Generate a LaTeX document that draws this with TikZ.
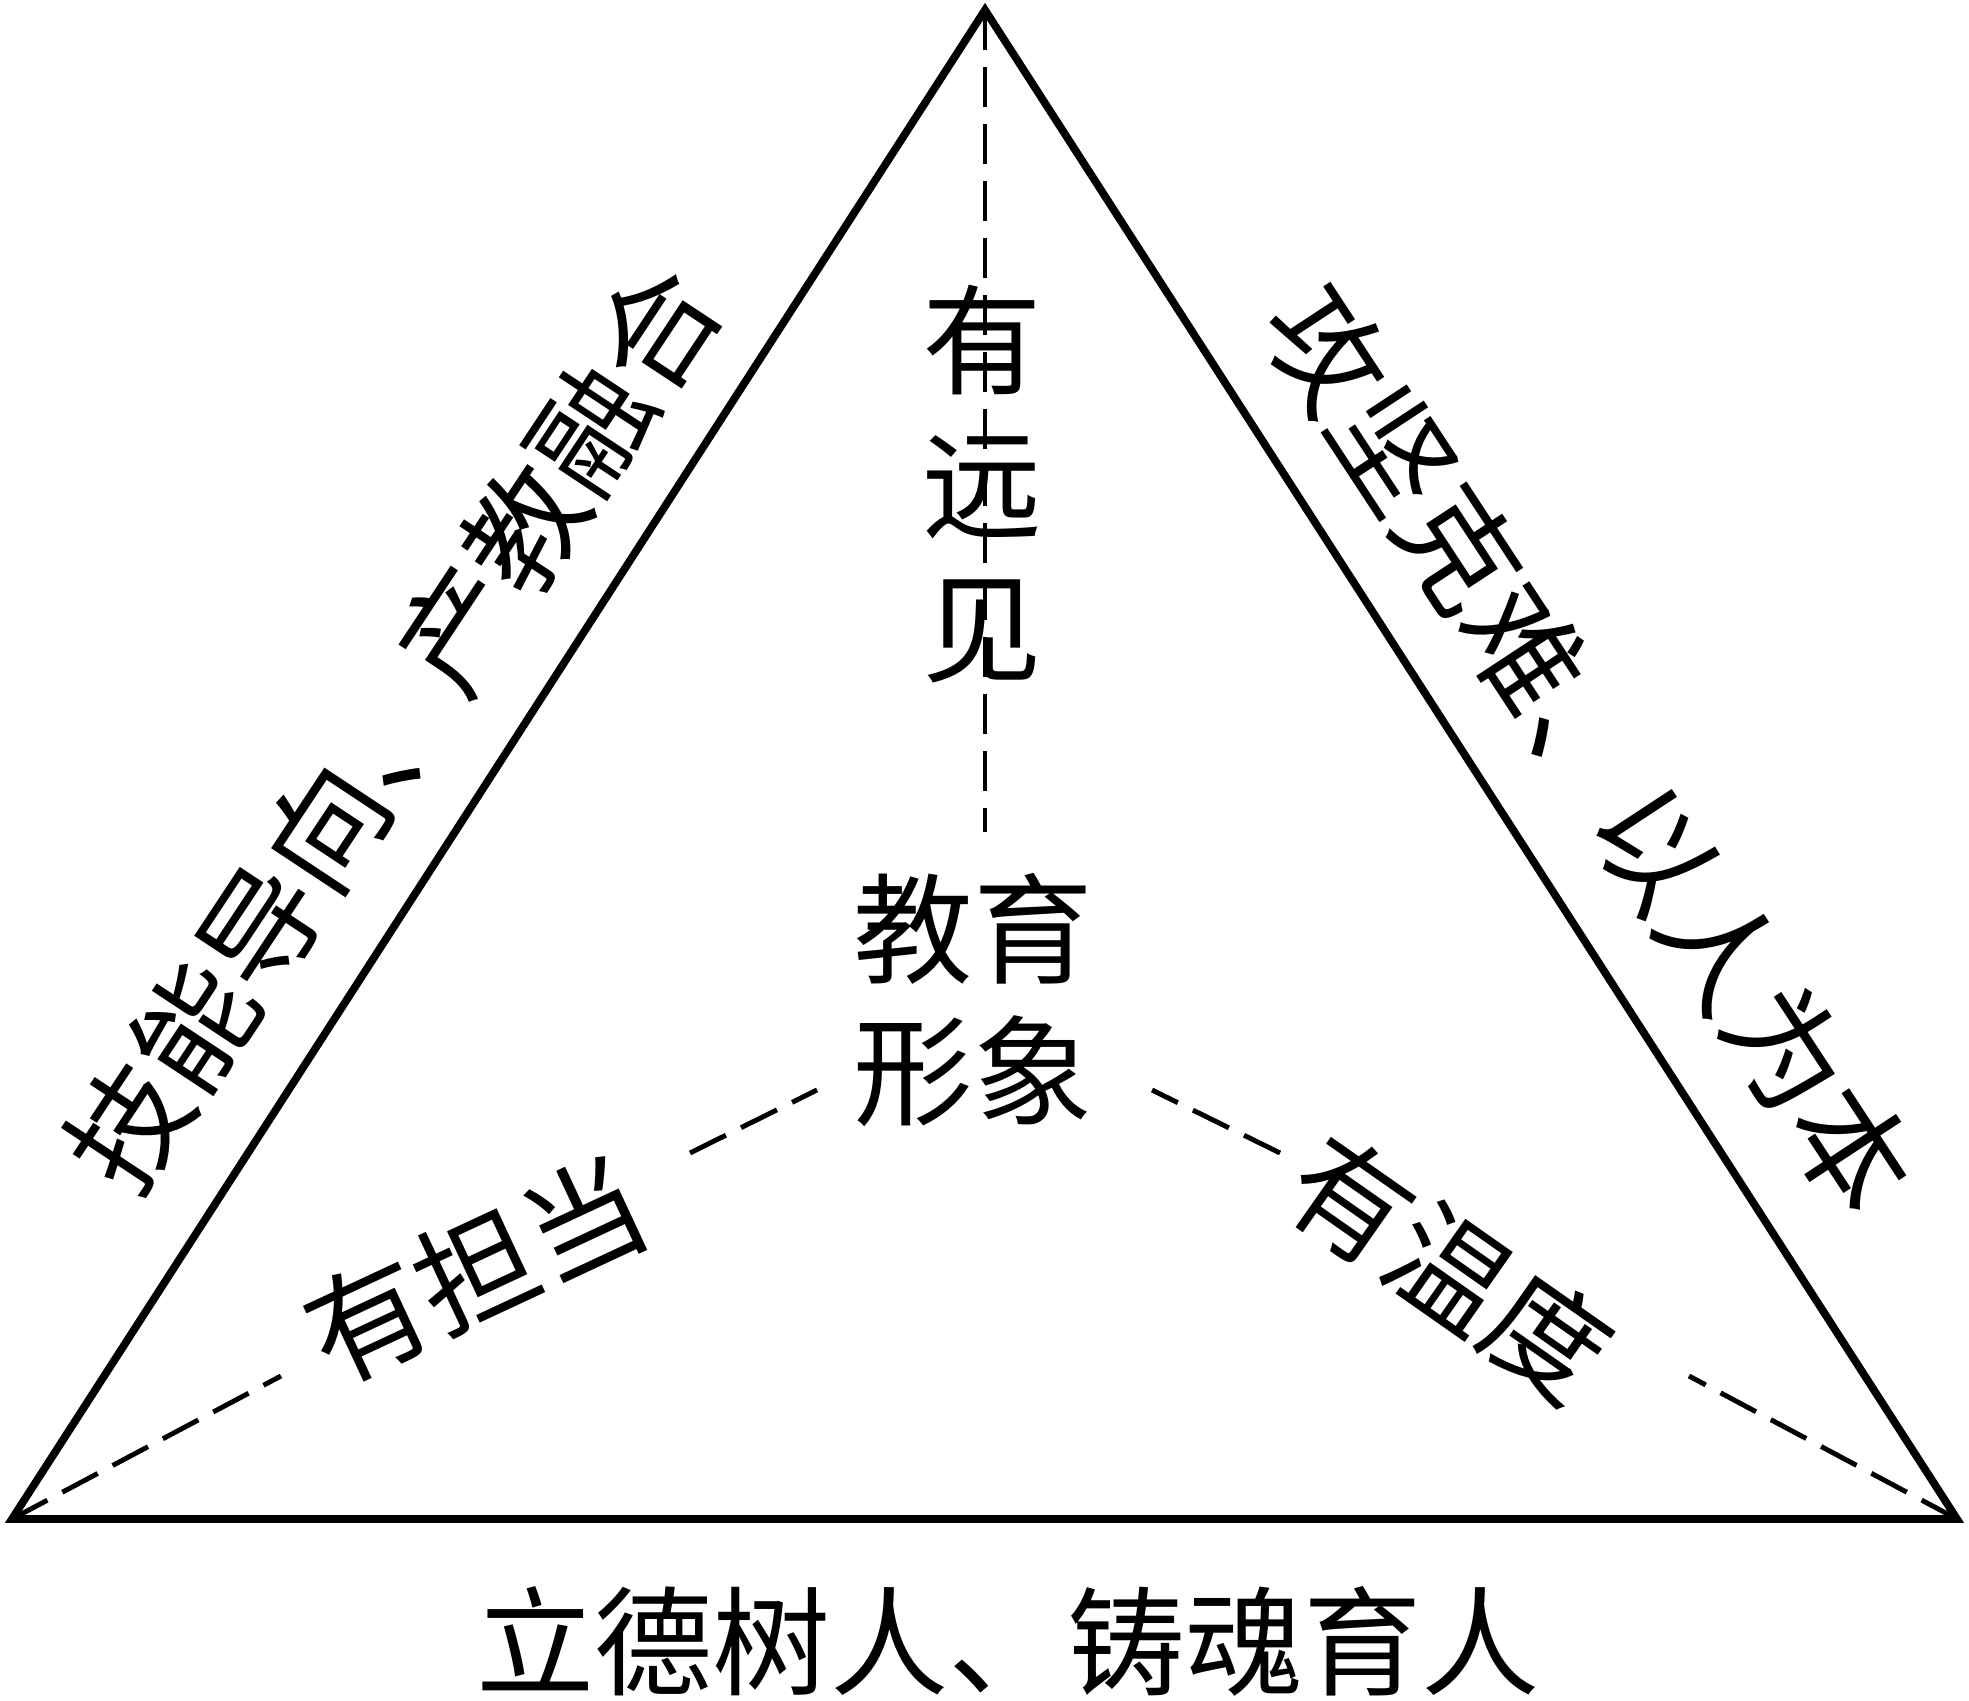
\documentclass[tikz,border=0pt]{standalone}
\usepackage{fontspec}
\newfontfamily\cjk{Noto Sans CJK SC}
\begin{document}
\begin{tikzpicture}[x=0.01cm,y=-0.01cm,
  edge/.style={line width=2.2pt,line join=miter},
  dashline/.style={line width=1.4pt,dash pattern=on 11.4pt off 4.8pt},
  lbl/.style={inner sep=0pt,font=\cjk\fontsize{34pt}{41pt}\selectfont,align=center},
  btm/.style={inner sep=0pt,font=\cjk\fontsize{33.6pt}{40pt}\selectfont}]
\useasboundingbox[fill=white] (0,0) rectangle (1969,1701);
% vertices
\coordinate (A) at (985,10);
\coordinate (B) at (12,1519);
\coordinate (C) at (1957,1519);
% dashed connector end points
\coordinate (V1) at (985,832);
\coordinate (L1) at (281,1376);
\coordinate (L2) at (690,1153);
\coordinate (L3) at (817,1090);
\coordinate (R1) at (1689,1376);
\coordinate (R2) at (1280,1153);
\coordinate (R3) at (1152,1090);
% triangle
\draw[edge] (A) -- (B) -- (C) -- cycle;
% dashed lines
\draw[dashline] (A) -- (V1);
\draw[dashline] (B) -- (L1);
\draw[dashline] (L2) -- (L3);
\draw[dashline] (C) -- (R1);
\draw[dashline] (R2) -- (R3);
% texts
\node[lbl,font=\cjk\fontsize{34pt}{41pt}\selectfont] (yuanjian) at (982,484) {有\\远\\见};
\node[lbl,font=\cjk\fontsize{34pt}{40.4pt}\selectfont] (center) at (973,1000) {教育\\形象};
\node[lbl,rotate=25] (dandang) at (476,1270) {有担当};
\node[lbl,rotate=-35] (wendu) at (1450,1268) {有温度};
\node[lbl,rotate=56.5] (lefttext) at (393,728) {技能导向、产教融合};
\node[lbl,rotate=-56.7] (righttext) at (1590,749) {攻坚克难、以人为本};
\node[btm] (bottom) at (1008,1641) {立德树人、铸魂育人};
\end{tikzpicture}
\end{document}
